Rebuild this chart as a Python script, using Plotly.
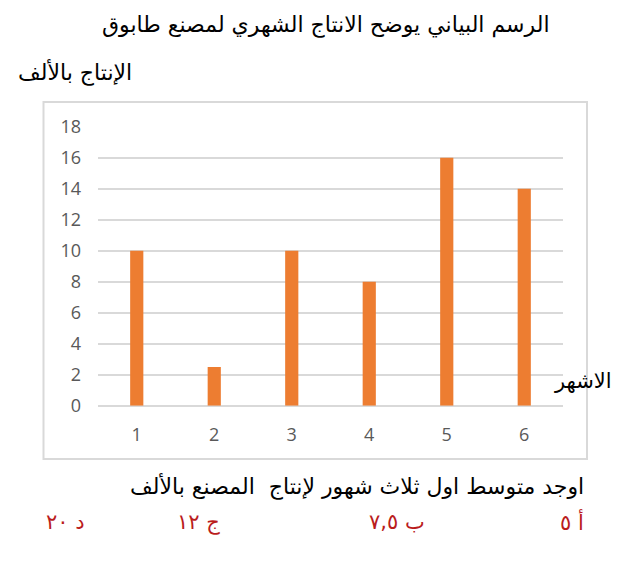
import plotly.graph_objects as go

months = [1, 2, 3, 4, 5, 6]
production = [10, 2.5, 10, 8, 16, 14]
y_ticks = [0, 2, 4, 6, 8, 10, 12, 14, 16, 18]

title_text = "الرسم البياني يوضح الانتاج الشهري لمصنع طابوق"
y_label = "الإنتاج بالألف"
x_label = "الاشهر"
question = "اوجد متوسط اول ثلاث شهور لإنتاج  المصنع بالألف"
answers = ["أ ٥", "ب ٧,٥", "ج ١٢", "د ٢٠"]
answer_right_px = [586, 427, 222, 87]

W, H = 626, 564
AR = "DejaVu Sans"
NUM = "Open Sans"


def px(x):
    return x / W


def py(y):
    return 1 - y / H


fig = go.Figure()
fig.add_trace(go.Bar(
    x=months, y=production,
    marker=dict(color="#ED7D31", line=dict(width=0)),
    width=0.17,
    hoverinfo="x+y",
))

annotations = [
    dict(text=title_text, x=px(326), y=py(25), font=dict(family=AR, size=22, color="#000")),
    dict(text=y_label, x=px(75), y=py(73), font=dict(family=AR, size=22, color="#000")),
    dict(text=x_label, x=px(583), y=py(381), font=dict(family=AR, size=21, color="#000")),
    dict(text=question, x=px(586), y=py(486), xanchor="right",
         font=dict(family=AR, size=22, color="#000")),
]
for t, r in zip(answers, answer_right_px):
    annotations.append(dict(text=t, x=px(r), y=py(522), xanchor="right",
                            font=dict(family=AR, size=21, color="#BA1C1C")))
for a in annotations:
    a.update(xref="paper", yref="paper", showarrow=False)
    a.setdefault("xanchor", "center")
    a["yanchor"] = "middle"

fig.update_layout(
    width=W, height=H,
    margin=dict(l=0, r=0, t=0, b=0, autoexpand=False),
    paper_bgcolor="white", plot_bgcolor="white",
    showlegend=False,
    annotations=annotations,
    shapes=[dict(type="rect", xref="paper", yref="paper",
                 x0=px(43.5), x1=px(587), y0=py(459), y1=py(102),
                 line=dict(color="#D9D9D9", width=2), layer="below")],
    xaxis=dict(domain=[px(98), px(563)], range=[0.5, 6.5],
               tickmode="array", tickvals=months,
               tickfont=dict(family=NUM, size=18, color="#595959"),
               showgrid=False, zeroline=False, showline=False,
               ticks="", ticklabelstandoff=16, fixedrange=True),
    yaxis=dict(domain=[py(405.7), py(126.7)], range=[0, 18],
               tickmode="array", tickvals=y_ticks,
               tickfont=dict(family=NUM, size=18, color="#595959"),
               showgrid=True, gridcolor="#D9D9D9", gridwidth=2,
               zeroline=True, zerolinecolor="#D9D9D9", zerolinewidth=2,
               showline=False, ticks="", ticklabelstandoff=16, fixedrange=True),
)

fig.write_html("out.html")
